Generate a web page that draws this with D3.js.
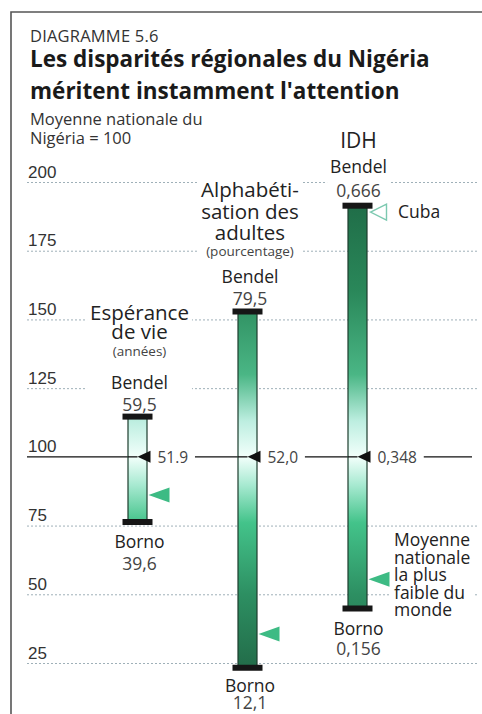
<!DOCTYPE html>
<html lang="fr">
<head>
<meta charset="utf-8">
<script src="https://cdn.jsdelivr.net/npm/d3@7/dist/d3.min.js"></script>
<style>
  html, body { margin: 0; padding: 0; background: #fff; }
  svg { display: block; font-family: "Open Sans", "Noto Sans", sans-serif; }
</style>
</head>
<body>
<svg id="chart" width="482" height="714"></svg>
<script>
// Indicators, Nigeria: best state (Bendel), worst state (Borno), national mean
const indicators   = ["esperance", "alphabetisation", "idh"];
const titleLines   = [["Espérance", "de vie"], ["Alphabéti-", "sation des", "adultes"], ["IDH"]];
const unitLines    = ["(années)", "(pourcentage)", null];
const bendelValues = [59.5, 79.5, 0.666];
const bendelLabels = ["59,5", "79,5", "0,666"];
const bornoValues  = [39.6, 12.1, 0.156];
const bornoLabels  = ["39,6", "12,1", "0,156"];
const meanValues   = [51.9, 52.0, 0.348];
const meanLabels   = ["51.9", "52,0", "0,348"];
// Lowest national average in the world, per indicator
const worldLowest  = [44.7, 18.5, 0.193];
const cubaIDH      = 0.658;
const yTicks       = [200, 175, 150, 125, 100, 75, 50, 25];
const noteLines    = ["Moyenne", "nationale", "la plus", "faible du", "monde"];

// Everything is expressed as an index: national mean = 100
const idx = (v, i) => v / meanValues[i] * 100;

const svg = d3.select("#chart");
const y = d3.scaleLinear().domain([25, 200]).range([663, 182]);
const x = d3.scalePoint().domain(indicators).range([137.5, 357.5]);

// Frame (top and left rules)
svg.append("path").attr("d", "M11,714V12H482")
  .attr("fill", "none").attr("stroke", "#555").attr("stroke-width", 1.6);

// Heading
svg.append("text").attr("x", 30).attr("y", 42).attr("font-size", 16.5).attr("fill", "#333")
  .attr("letter-spacing", 0.2).text("DIAGRAMME 5.6");
svg.append("text").attr("font-size", 22.5).attr("font-weight", 700).attr("fill", "#1a1a1a")
  .selectAll("tspan").data([["Les disparités régionales du Nigéria", 67], ["méritent instamment l'attention", 99]])
  .join("tspan").attr("x", 30).attr("y", d => d[1]).text(d => d[0]);
svg.append("text").attr("font-size", 16.5).attr("fill", "#333")
  .selectAll("tspan").data([["Moyenne nationale du", 125], ["Nigéria = 100", 144]])
  .join("tspan").attr("x", 30).attr("y", d => d[1]).text(d => d[0]);

// Gradient shared by all bars: pale at the national mean, dark green far from it
const defs = svg.append("defs");
const grad = defs.append("linearGradient").attr("id", "barGrad")
  .attr("gradientUnits", "userSpaceOnUse")
  .attr("x1", 0).attr("x2", 0).attr("y1", y(200)).attr("y2", y(0));
const gradStops = [
  [200, "#1d6643"], [160, "#2a885a"], [130, "#4ab685"], [113, "#bdeee0"],
  [100, "#f2fffb"], [90, "#a9ead2"], [76, "#43c38a"], [50, "#2d8f62"], [20, "#216846"]
];
grad.selectAll("stop").data(gradStops).join("stop")
  .attr("offset", d => (y(d[0]) - y(200)) / (y(0) - y(200)))
  .attr("stop-color", d => d[1]);

// Axis with grid lines and labels sitting above each line
const axis = d3.axisRight(y).tickValues(yTicks).tickSize(451).tickFormat(d3.format("d"));
const gAxis = svg.append("g").attr("transform", "translate(27,0)").call(axis);
gAxis.select(".domain").remove();
gAxis.selectAll(".tick line")
  .attr("stroke", d => d === 100 ? "none" : "#9fb0b8")
  .attr("stroke-dasharray", "2,2").attr("stroke-width", 1);
gAxis.selectAll(".tick text")
  .attr("x", 1).attr("dy", -5).attr("text-anchor", "start")
  .attr("font-size", 17).attr("fill", "#333").attr("font-family", null);

// White knock-outs behind the labels that sit on the grid
const knockLayer = svg.append("g");

// National mean line
const yMean = y(100);
svg.append("line").attr("x1", 27).attr("x2", 472).attr("y1", yMean).attr("y2", yMean)
  .attr("stroke", "#111").attr("stroke-width", 1.3);

// Bars
const barW = 19, capW = 30, capH = 6;
const gBars = svg.append("g");
indicators.forEach((k, i) => {
  const cx = x(k);
  const top = y(idx(bendelValues[i], i)), bot = y(idx(bornoValues[i], i));
  gBars.append("rect").attr("x", cx - barW / 2).attr("y", top).attr("width", barW)
    .attr("height", bot - top).attr("fill", "url(#barGrad)")
    .attr("stroke", "#1d3d2d").attr("stroke-width", 1.2);
  gBars.append("rect").attr("x", cx - capW / 2).attr("y", top - capH / 2)
    .attr("width", capW).attr("height", capH).attr("fill", "#161616");
  gBars.append("rect").attr("x", cx - capW / 2).attr("y", bot - capH / 2)
    .attr("width", capW).attr("height", capH).attr("fill", "#161616");
});

// Mean line drawn across each bar, with a gap for the value label
const gMean = svg.append("g");
indicators.forEach((k, i) => {
  const cx = x(k);
  gMean.append("line").attr("x1", cx - barW / 2).attr("x2", cx).attr("y1", yMean).attr("y2", yMean)
    .attr("stroke", "#111").attr("stroke-width", 1.3);
  const t = gMean.append("text").attr("x", cx + 20).attr("y", yMean + 6)
    .attr("font-size", 15.5).attr("fill", "#444").text(meanLabels[i]);
  const w = t.node().getComputedTextLength();
  gMean.insert("rect", "text").attr("x", cx + barW / 2 + 0.8).attr("y", yMean - 2)
    .attr("width", 20 - barW / 2 + w + 6).attr("height", 4).attr("fill", "#fff");
  gMean.append("path")
    .attr("d", `M${cx},${yMean}L${cx + 13},${yMean - 6}L${cx + 13},${yMean + 6}Z`)
    .attr("fill", "#111");
});

// World-lowest markers
const gLow = svg.append("g");
indicators.forEach((k, i) => {
  const cx = x(k), yy = y(idx(worldLowest[i], i));
  gLow.append("path")
    .attr("d", `M${cx + 11},${yy}L${cx + 32},${yy - 7.5}L${cx + 32},${yy + 7.5}Z`)
    .attr("fill", "#3dbb84");
});

// Cuba marker on the HDI bar
const yCuba = y(idx(cubaIDH, 2)), cxIdh = x("idh");
svg.append("path")
  .attr("d", `M${cxIdh + 13},${yCuba}L${cxIdh + 29},${yCuba - 8}L${cxIdh + 29},${yCuba + 8}Z`)
  .attr("fill", "#fff").attr("stroke", "#7cc9b0").attr("stroke-width", 1.4);
svg.append("text").attr("x", 398).attr("y", yCuba + 6).attr("font-size", 17.5)
  .attr("fill", "#222").text("Cuba");

// A stacked block of lines as one text element; each line: [text, baseline, size, fill]
const textLayer = svg.append("g").attr("fill", "#222");
function block(tx, lines, anchor = "middle") {
  const t = textLayer.append("text").attr("text-anchor", anchor);
  lines.forEach(([str, ty, size, fill]) => {
    t.append("tspan").attr("x", tx).attr("y", ty).attr("font-size", size)
      .attr("fill", fill || "#222").text(str);
  });
  const bb = t.node().getBBox();
  knockLayer.append("rect").attr("x", bb.x - 3).attr("y", bb.y + 2)
    .attr("width", bb.width + 6).attr("height", bb.height - 4).attr("fill", "#fff");
}

const titleBase  = [[320, 339], [197, 219, 240], [148]];
const titleSize  = [20.5, 20.5, 21];
const unitBase   = [356, 256, null];
const bendelBase = [[389, 411], [283, 305], [173, 197]];
const bornoBase  = [[548, 570], [692, 709], [635, 655]];
const labelX = [139.5, 250, 358.5];
indicators.forEach((k, i) => {
  const cx = labelX[i];
  const top = titleLines[i].map((line, j) => [line, titleBase[i][j], titleSize[i]]);
  if (unitLines[i]) top.push([unitLines[i], unitBase[i], 13.5, "#444"]);
  top.push(["Bendel", bendelBase[i][0], 17.5]);
  top.push([bendelLabels[i], bendelBase[i][1], 17.5, "#444"]);
  block(cx, top);
  block(cx, [["Borno", bornoBase[i][0], 17.5], [bornoLabels[i], bornoBase[i][1], 17.5, "#444"]]);
});

// Note for the green markers
block(394, noteLines.map((line, j) => [line, 546 + j * 17.5, 17.5]), "start");
</script>
</body>
</html>
